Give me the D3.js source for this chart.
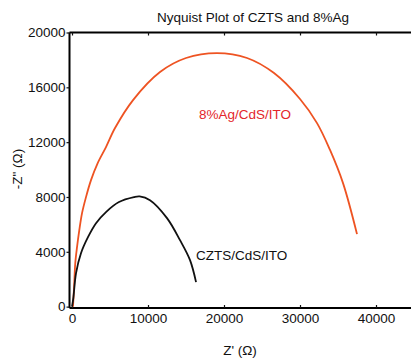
<!DOCTYPE html>
<html lang="en">
<head>
  <meta charset="UTF-8">
  <title>Nyquist Plot of CZTS and 8%Ag</title>
  <script src="https://d3js.org/d3.v7.min.js"></script>
  <style>
    body {
      margin: 0;
      padding: 0;
      background: #fff;
      font-family: "Liberation Sans", Arial, sans-serif;
    }
    .tick text {
      font-size: 13.5px;
      fill: #111;
    }
  </style>
</head>
<body>
  <div id="chart"></div>
  <script>
// Z' (ohm) and -Z'' (ohm)
const agZre = [130, 280, 430, 660, 960, 1320, 1840, 2500, 3380, 4470, 5660, 8030, 11580, 15000, 19080, 23030, 26580, 30000, 32240, 33950, 35660, 37500];
const agZim = [0, 1500, 3180, 4340, 5580, 6820, 7990, 9230, 10470, 11640, 13030, 15070, 17120, 18140, 18500, 18140, 17040, 15150, 13390, 11430, 9010, 5290];

const cztsZre = [0, 170, 530, 1180, 2100, 3160, 4470, 6180, 8160, 8900, 10260, 12500, 14210, 15530, 16320];
const cztsZim = [0, 600, 2450, 3900, 5070, 6090, 6900, 7630, 7990, 8040, 7770, 6460, 4850, 3390, 1790];

const xTicks = [0, 10000, 20000, 30000, 40000];
const yTicks = [0, 4000, 8000, 12000, 16000, 20000];

const width = 411, height = 360;

const svg = d3.select("#chart")
  .append("svg")
  .attr("width", width)
  .attr("height", height);

const x = d3.scaleLinear().domain([-330, 45000]).range([69.5, 414]);
const y = d3.scaleLinear().domain([-100, 20000]).range([308, 32.5]);

// top axis line and inward ticks
svg.append("g")
  .attr("transform", `translate(0,${y(20000)})`)
  .call(d3.axisTop(x).tickValues(xTicks).tickSize(-3).tickFormat(""))
  .call(g => g.select(".domain").attr("stroke-width", 2).attr("d", `M${x.range()[0]},0H${x.range()[1]}`));

// bottom axis
svg.append("g")
  .attr("transform", `translate(0,${y(-100)})`)
  .call(d3.axisBottom(x).tickValues(xTicks).tickSize(-3).tickPadding(5).tickFormat(d3.format("d")))
  .call(g => g.select(".domain").attr("stroke-width", 2).attr("d", `M${x.range()[0]},0H${x.range()[1]}`));

// left axis
svg.append("g")
  .attr("transform", `translate(${x(-330)},0)`)
  .call(d3.axisLeft(y).tickValues(yTicks).tickSize(3).tickPadding(1).tickFormat(d3.format("d")))
  .call(g => g.select(".domain").attr("stroke-width", 2).attr("d", `M0,${y.range()[0]}V${y.range()[1]}`));

svg.selectAll(".tick line").attr("stroke", "#111").attr("stroke-width", 1.2);

const line = d3.line()
  .x(d => x(d[0]))
  .y(d => y(d[1]))
  .curve(d3.curveCatmullRom);

svg.append("path")
  .datum(d3.zip(agZre, agZim))
  .attr("fill", "none")
  .attr("stroke", "#ee5322")
  .attr("stroke-width", 1.8)
  .attr("d", line);

svg.append("path")
  .datum(d3.zip(cztsZre, cztsZim))
  .attr("fill", "none")
  .attr("stroke", "#111")
  .attr("stroke-width", 1.8)
  .attr("d", line);

// labels
svg.append("text")
  .attr("x", 199).attr("y", 119)
  .attr("font-size", 13.5)
  .attr("fill", "#e3262b")
  .text("8%Ag/CdS/ITO");

svg.append("text")
  .attr("x", 196).attr("y", 260)
  .attr("font-size", 13.5)
  .attr("fill", "#111")
  .text("CZTS/CdS/ITO");

svg.append("text")
  .attr("x", 253).attr("y", 22)
  .attr("text-anchor", "middle")
  .attr("font-size", 13.5)
  .attr("fill", "#111")
  .text("Nyquist Plot of CZTS and 8%Ag");

svg.append("text")
  .attr("x", 240).attr("y", 355)
  .attr("text-anchor", "middle")
  .attr("font-size", 13.5)
  .attr("fill", "#111")
  .text("Z' (Ω)");

svg.append("text")
  .attr("transform", "translate(22,169) rotate(-90)")
  .attr("text-anchor", "middle")
  .attr("font-size", 13.5)
  .attr("fill", "#111")
  .text("-Z\" (Ω)");
  </script>
</body>
</html>
